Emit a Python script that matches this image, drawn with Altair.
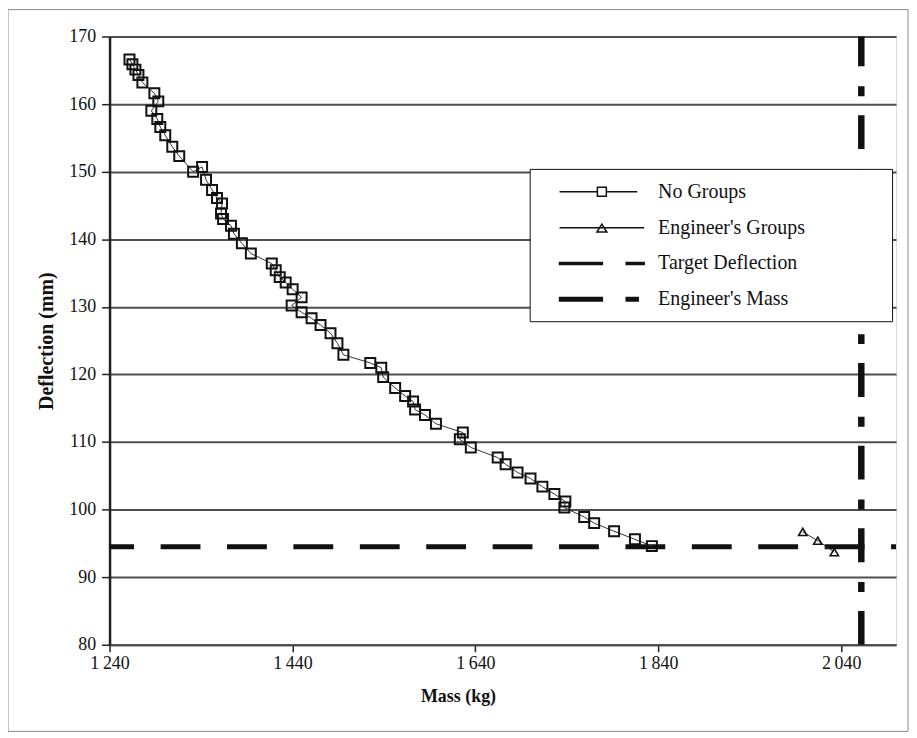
import altair as alt
import pandas as pd

# ---- data ----
mass_no_groups = [1261.8, 1265.0, 1268.3, 1271.6, 1275.9, 1289.0, 1293.3, 1285.7, 1292.2, 1295.5,
                  1300.9, 1308.6, 1316.2, 1331.4, 1341.2, 1345.5, 1352.1, 1357.5, 1363.0, 1361.9,
                  1364.1, 1372.8, 1376.0, 1384.7, 1394.5, 1417.4, 1421.7, 1426.1, 1432.6, 1440.2,
                  1450.0, 1439.1, 1450.0, 1460.9, 1470.7, 1481.6, 1489.2, 1495.7, 1525.1, 1537.1,
                  1539.2, 1552.3, 1563.2, 1571.9, 1574.1, 1584.9, 1596.9, 1626.3, 1623.0, 1635.0,
                  1664.4, 1673.1, 1686.1, 1700.3, 1713.3, 1726.4, 1738.4, 1737.3, 1759.0, 1769.9,
                  1791.7, 1814.5, 1833.0]
defl_no_groups = [166.6, 165.9, 165.1, 164.3, 163.2, 161.6, 160.4, 159.0, 157.8, 156.6,
                  155.4, 153.7, 152.3, 150.0, 150.7, 148.8, 147.3, 146.1, 145.3, 143.8,
                  143.0, 142.0, 140.8, 139.4, 137.9, 136.4, 135.4, 134.4, 133.6, 132.6,
                  131.4, 130.2, 129.2, 128.3, 127.3, 126.1, 124.6, 122.9, 121.7, 121.0,
                  119.6, 118.0, 116.8, 116.0, 114.8, 114.0, 112.7, 111.4, 110.4, 109.2,
                  107.7, 106.7, 105.5, 104.6, 103.4, 102.3, 101.2, 100.3, 98.9, 98.0,
                  96.8, 95.6, 94.6]
mass_eng_groups = [1998.0, 2014.4, 2032.5]
defl_eng_groups = [96.7, 95.4, 93.7]
target_deflection = [94.5]
engineer_mass = [2062.0]

legend_series = ["No Groups", "Engineer's Groups", "Target Deflection", "Engineer's Mass"]
x_ticks = [1240, 1440, 1640, 1840, 2040]
y_ticks = [80, 90, 100, 110, 120, 130, 140, 150, 160, 170]

FONT = "Liberation Serif"
W, H = 790, 611

df_ng = pd.DataFrame({"mass": mass_no_groups, "defl": defl_no_groups,
                      "i": list(range(len(mass_no_groups)))})
df_eg = pd.DataFrame({"mass": mass_eng_groups, "defl": defl_eng_groups,
                      "i": list(range(len(mass_eng_groups)))})
df_t = pd.DataFrame({"defl": target_deflection})
df_m = pd.DataFrame({"mass": engineer_mass})

xs = alt.Scale(domain=[1240, 2100], nice=False, zero=False)
ys = alt.Scale(domain=[80, 170], nice=False, zero=False)

x_axis = alt.Axis(values=x_ticks, grid=False, domainColor="#4a4a4a", domainWidth=2,
                  tickColor="#222", tickSize=7, tickWidth=1.5, labelPadding=3,
                  labelFlush=False, labelOverlap=False,
                  labelExpr="replace(format(datum.value, ','), ',', '\u2009')",
                  labelFont=FONT, labelFontSize=18, labelColor="#111",
                  titleFont=FONT, titleFontSize=18, titleFontWeight="bold", titleColor="#111",
                  titlePadding=15, titleX=350)
y_axis = alt.Axis(values=y_ticks, grid=True, gridColor="#4f4f4f", gridWidth=2,
                  domainColor="#222", domainWidth=2.5, tickColor="#222", tickSize=8,
                  tickWidth=1.5, labelPadding=6, labelFont=FONT, labelFontSize=18,
                  labelColor="#111", titleFont=FONT, titleFontSize=20, titleFontWeight="bold",
                  titleColor="#111", titlePadding=12)

X = lambda f="mass:Q": alt.X(f, scale=xs, axis=x_axis, title="Mass (kg)")
Y = lambda f="defl:Q": alt.Y(f, scale=ys, axis=y_axis, title="Deflection (mm)")

target = alt.Chart(df_t).mark_rule(color="#111", strokeWidth=5, strokeDash=[40, 26.7],
                                   strokeDashOffset=35).encode(y=Y())
eng_mass = alt.Chart(df_m).mark_rule(color="#111", strokeWidth=6.5,
                                     strokeDash=[34, 19, 10, 20]).encode(
    x=X(), y=alt.datum(80, scale=ys, axis=y_axis, title="Deflection (mm)"),
    y2=alt.datum(170))

ng_line = alt.Chart(df_ng).mark_line(color="#333", strokeWidth=1).encode(
    x=X(), y=Y(), order="i:Q")
ng_pts = alt.Chart(df_ng).mark_point(shape="square", size=100, filled=False,
                                     color="#111", strokeWidth=2, opacity=1).encode(
    x=X(), y=Y())
eg_line = alt.Chart(df_eg).mark_line(color="#333", strokeWidth=1).encode(
    x=X(), y=Y(), order="i:Q")
eg_pts = alt.Chart(df_eg).mark_point(shape="triangle-up", size=70, filled=False,
                                     color="#111", strokeWidth=1.6, opacity=1).encode(
    x=X(), y=Y())

# legend (native Vega legend with custom symbol paths; 1 path unit = 10 px)
sym_paths = [
    "M-4.25,0H-0.45M0.45,0H3.55M-0.45,-0.45H0.45V0.45H-0.45Z",
    "M-4.25,0H4.25M0,-0.35L0.5,0.45H-0.5Z",
    "M-4.25,-0.1H0.05V0.1H-4.25ZM2.45,-0.1H4.25V0.1H2.45Z",
    "M-4.25,-0.18H0.05V0.18H-4.25ZM2.45,-0.18H3.65V0.18H2.45Z",
]
pad = "\u2800" * 5
leg = alt.Legend(title=None, orient="none", legendX=422, legendY=133, direction="vertical",
                 labelFont=FONT, labelFontSize=20, labelColor="#111", labelOffset=45.5,
                 labelLimit=700, labelExpr="datum.label + '" + pad + "'",
                 symbolSize=400, symbolStrokeColor="#111", symbolStrokeWidth=1.5,
                 symbolOpacity=1, symbolOffset=49.5, rowPadding=15, padding=12,
                 strokeColor="#111", fillColor="white")
df_leg = pd.DataFrame({"series": legend_series, "mass": [2500] * 4, "defl": [60] * 4})
legend_layer = alt.Chart(df_leg).mark_point(clip=True, color="#111", strokeWidth=1.5,
                                            filled=False).encode(
    x=X(), y=Y(),
    shape=alt.Shape("series:N", scale=alt.Scale(domain=legend_series, range=sym_paths),
                    legend=leg),
    fill=alt.Fill("series:N", scale=alt.Scale(domain=legend_series,
                                              range=["white", "white", "#111", "#111"]),
                  legend=leg),
    stroke=alt.Stroke("series:N", scale=alt.Scale(domain=legend_series,
                                                  range=["#111", "#111", "#111", "#111"]),
                      legend=leg),
)

frame = alt.Chart(pd.DataFrame({"k": [0]})).mark_rect(
    fillOpacity=0, stroke="#8a8a8a", strokeWidth=1).encode(
    x=alt.value(-102), x2=alt.value(802), y=alt.value(-27), y2=alt.value(698))

chart = alt.layer(frame, target, eng_mass, ng_line, eg_line, ng_pts, eg_pts,
                  legend_layer).properties(
    width=W, height=H,
    autosize=alt.AutoSizeParams(type="none"),
    padding={"left": 102, "top": 27, "right": 13, "bottom": 88},
).configure_view(stroke=None).configure(background="white")

chart.save("out.html", embed_options={"renderer": "svg", "actions": False})
